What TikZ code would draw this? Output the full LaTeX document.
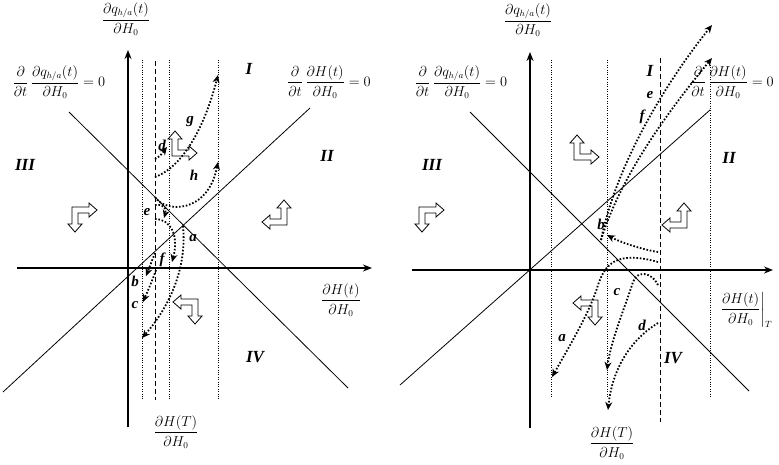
\documentclass[tikz,border=0pt]{standalone}
\usepackage{amsmath}
\usepackage{fontspec}
\setmainfont{Liberation Serif}
\usetikzlibrary{arrows.meta}
\tikzset{
 axisline/.style={line width=2.2pt,-{Stealth[length=9pt,width=7pt]}},
 diag/.style={line width=0.8pt},
 vdot/.style={line width=0.7pt, dash pattern=on 0.8pt off 1.6pt},
 vdash/.style={line width=1pt, dash pattern=on 5pt off 3pt},
 dotarrow/.style={line width=1.8pt, dash pattern=on 1.6pt off 1.8pt, -{Stealth[length=8pt,width=7pt]}},
 quadlab/.style={font=\fontsize{17}{19}\selectfont\bfseries\itshape, inner sep=0pt},
 lett/.style={font=\fontsize{15}{17}\selectfont\bfseries\itshape, inner sep=0pt},
 mlab/.style={font=\fontsize{13.5}{16}\selectfont, inner sep=0pt},
 mlabb/.style={font=\fontsize{13.5}{16}\selectfont, inner sep=0pt},
 blk/.style={draw, line width=0.8pt, fill=white, line join=miter},
}
\newcommand{\Larr}[4]{%
 \begin{scope}[shift={(#1,#2)}, xscale=#3, yscale=#4]
 \draw[blk] (-3,-3) -- (14,-3) -- (14,-7) -- (22,0) -- (14,7) -- (14,3) -- (3,3) -- (3,14) -- (7,14) -- (0,22) -- (-7,14) -- (-3,14) -- cycle;
 \end{scope}}
\begin{document}
\begin{tikzpicture}[x=1pt,y=-1pt]
\useasboundingbox[fill=white] (0,0) rectangle (779,464);
% ================= LEFT PANEL =================
\coordinate (LvB) at (128,427); \coordinate (LvT) at (128,50);
\coordinate (LhL) at (17,268); \coordinate (LhR) at (372,268);
% vertical guide lines
\foreach \x in {142,169,218} \draw[vdot] (\x,60) -- (\x,400);
\draw[vdash] (155,61) -- (155,400);
% diagonals
\coordinate (L1a) at (69,112); \coordinate (L1b) at (348,388);
\coordinate (L2a) at (310,108); \coordinate (L2b) at (3,392);
\draw[diag] (L1a) -- (L1b);
\draw[diag] (L2a) -- (L2b);
% axes
\draw[axisline] (LhL) -- (LhR);
\draw[axisline] (LvB) -- (LvT);
% axis labels
\node[mlab] (Ltop) at (126,19) {$\dfrac{\partial q_{h/a}(t)}{\partial H_0}$};
\node[mlab] (Lright) at (341,300) {$\dfrac{\partial H(t)}{\partial H_0}$};
\node[mlab] (Lbot) at (176,432) {$\dfrac{\partial H(T)}{\partial H_0}$};
\node[mlab] (Lf1) at (59,82) {$\dfrac{\partial}{\partial t}\,\dfrac{\partial q_{h/a}(t)}{\partial H_0}=0$};
\node[mlab] (Lf2) at (329,82) {$\dfrac{\partial}{\partial t}\,\dfrac{\partial H(t)}{\partial H_0}=0$};
% quadrant labels
\node[quadlab] (LI) at (249,69) {I};
\node[quadlab] (LII) at (327,156) {II};
\node[quadlab] (LIII) at (25,165) {III};
\node[quadlab] (LIV) at (255,357) {IV};
% block arrows
\Larr{75}{210}{1}{1}
\Larr{284}{222}{-1}{-1}
\Larr{175}{153}{1}{-1}
\Larr{195}{302}{-1}{1}
% dotted arrows
\draw[dotarrow] (155,159) .. controls (160,156) .. (167,147);
\draw[dotarrow] (155,177) .. controls (185,166) and (206,122) .. (218,75);
\draw[dotarrow] (155,197) .. controls (165,213) and (208,214) .. (218,162);
\draw[dotarrow] (155,205) .. controls (163,204) and (167,208) .. (164,218);
\draw[dotarrow] (155,219) .. controls (171,219) and (179,236) .. (172,262);
\draw[dotarrow] (183,226) .. controls (187,266) and (171,305) .. (142,338);
\draw[dotarrow] (155,253) -- (146,276);
\draw[dotarrow] (156,270) .. controls (152,281) .. (143,302);
% letters
\node[lett] (Ld) at (162,145) {d};
\node[lett] (Lg) at (190,122) {g};
\node[lett] (Lh) at (194,175) {h};
\node[lett] (Le) at (147,212) {e};
\node[lett] (La) at (193,238) {a};
\node[lett] (Lf) at (162,260) {f};
\node[lett] (Lb) at (135,281) {b};
\node[lett] (Lc) at (135,305) {c};
% ================= RIGHT PANEL =================
\coordinate (RvB) at (530,428); \coordinate (RvT) at (530,52);
\coordinate (RhL) at (412,270); \coordinate (RhR) at (773,270);
\foreach \x in {551,607,710} \draw[vdot] (\x,60) -- (\x,397);
\draw[vdash] (660,58) -- (660,422);
\coordinate (R1a) at (470,112); \coordinate (R1b) at (749,391);
\coordinate (R2a) at (710,110); \coordinate (R2b) at (400,385);
\draw[diag] (R1a) -- (R1b);
\draw[diag] (R2a) -- (R2b);
\draw[axisline] (RhL) -- (RhR);
\draw[axisline] (RvB) -- (RvT);
\node[mlabb] (Rtop) at (528,20) {$\dfrac{\partial q_{h/a}(t)}{\partial H_0}$};
\node[mlabb] (Rright) at (746,310) {$\left.\dfrac{\partial H(t)}{\partial H_0}\right|_T$};
\node[mlabb] (Rbot) at (612,443) {$\dfrac{\partial H(T)}{\partial H_0}$};
\node[mlabb] (Rf1) at (461,82) {$\dfrac{\partial}{\partial t}\,\dfrac{\partial q_{h/a}(t)}{\partial H_0}=0$};
\node[mlabb] (Rf2) at (732,82) {$\dfrac{\partial}{\partial t}\,\dfrac{\partial H(t)}{\partial H_0}=0$};
\node[quadlab] (RI) at (650,71) {I};
\node[quadlab] (RII) at (729,158) {II};
\node[quadlab] (RIII) at (432,165) {III};
\node[quadlab] (RIV) at (673,358) {IV};
\Larr{422}{210}{1}{1}
\Larr{684}{225}{-1}{-1}
\Larr{577}{157}{1}{-1}
\Larr{595}{303}{-1}{1}
% dotted arrows
\draw[dotarrow] (601,240) .. controls (615,170) and (660,90) .. (712,25);
\draw[dotarrow] (601,240) .. controls (620,178) and (665,115) .. (712,58);
\draw[dotarrow] (658,252) .. controls (640,249) and (620,242) .. (607,235);
\draw[dotarrow] (658,262) .. controls (615,250) and (605,265) .. (598,285) .. controls (590,312) and (570,345) .. (552,377);
\draw[dotarrow] (658,285) .. controls (652,272) and (637,270) .. (633,282) .. controls (624,310) and (611,340) .. (607,370);
\draw[dotarrow] (658,323) .. controls (630,340) and (612,370) .. (608,410);
\node[lett] (Re) at (650,95) {e};
\node[lett] (Rf) at (642,117) {f};
\node[lett] (Rb) at (601,224) {b};
\node[lett] (Ra) at (562,338) {a};
\node[lett] (Rc) at (617,292) {c};
\node[lett] (Rd) at (642,325) {d};
\end{tikzpicture}
\end{document}
